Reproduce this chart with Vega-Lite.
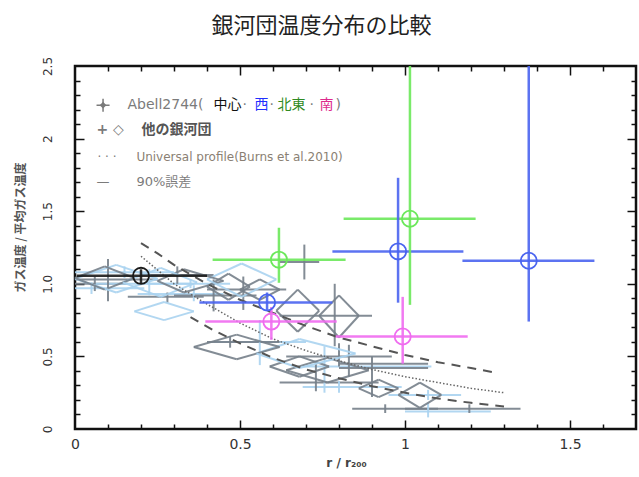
{
  "$schema": "https://vega.github.io/schema/vega-lite/v6.json",
  "width": 561,
  "height": 363,
  "autosize": {"type": "none"},
  "padding": {"left": 75, "top": 66, "right": 3, "bottom": 48},
  "background": "white",
  "config": {"view": {"stroke": "#111111", "strokeWidth": 2.5}},
  "title": {"text": "銀河団温度分布の比較", "font": "Noto Sans CJK JP", "fontSize": 22, "fontWeight": "normal", "color": "#222222", "anchor": "middle", "dx": -34, "offset": 18},
  "datasets": {
    "abell": [
      {"region": "中心", "x": 0.2, "y": 1.055, "xlo": 0.005, "xhi": 0.40, "ylo": 1.0, "yhi": 1.10},
      {"region": "西", "x": 0.582, "y": 0.871, "xlo": 0.377, "xhi": 0.78, "ylo": 0.82, "yhi": 0.94},
      {"region": "西", "x": 0.979, "y": 1.223, "xlo": 0.78, "xhi": 1.177, "ylo": 0.87, "yhi": 1.73},
      {"region": "西", "x": 1.375, "y": 1.159, "xlo": 1.174, "xhi": 1.574, "ylo": 0.74, "yhi": 2.5},
      {"region": "北東", "x": 0.618, "y": 1.166, "xlo": 0.417, "xhi": 0.82, "ylo": 1.007, "yhi": 1.386},
      {"region": "北東", "x": 1.015, "y": 1.448, "xlo": 0.814, "xhi": 1.214, "ylo": 0.855, "yhi": 2.5},
      {"region": "南", "x": 0.595, "y": 0.74, "xlo": 0.395, "xhi": 0.793, "ylo": 0.614, "yhi": 0.84},
      {"region": "南", "x": 0.993, "y": 0.637, "xlo": 0.79, "xhi": 1.19, "ylo": 0.45, "yhi": 0.91}
    ],
    "others": [
      {"sym": "cross", "tone": "gray", "x": 0.10, "y": 1.03, "xlo": 0.0, "xhi": 0.25, "ylo": 0.88, "yhi": 1.17},
      {"sym": "cross", "tone": "light", "x": 0.05, "y": 0.97, "xlo": 0.0, "xhi": 0.21, "ylo": 0.93, "yhi": 1.01},
      {"sym": "cross", "tone": "gray", "x": 0.06, "y": 1.0, "xlo": 0.0, "xhi": 0.16, "ylo": 0.95, "yhi": 1.05},
      {"sym": "cross", "tone": "light", "x": 0.225, "y": 1.0, "xlo": 0.06, "xhi": 0.36, "ylo": 0.92, "yhi": 1.10},
      {"sym": "cross", "tone": "gray", "x": 0.31, "y": 1.06, "xlo": 0.20, "xhi": 0.42, "ylo": 1.0, "yhi": 1.12},
      {"sym": "cross", "tone": "gray", "x": 0.28, "y": 0.91, "xlo": 0.16, "xhi": 0.39, "ylo": 0.87, "yhi": 0.94},
      {"sym": "cross", "tone": "light", "x": 0.36, "y": 0.93, "xlo": 0.19, "xhi": 0.45, "ylo": 0.88, "yhi": 0.99},
      {"sym": "cross", "tone": "gray", "x": 0.42, "y": 0.92, "xlo": 0.30, "xhi": 0.55, "ylo": 0.81, "yhi": 1.03},
      {"sym": "cross", "tone": "gray", "x": 0.51, "y": 0.96, "xlo": 0.40, "xhi": 0.64, "ylo": 0.82, "yhi": 1.05},
      {"sym": "cross", "tone": "gray", "x": 0.695, "y": 1.15, "xlo": 0.62, "xhi": 0.74, "ylo": 1.03, "yhi": 1.27},
      {"sym": "cross", "tone": "gray", "x": 0.787, "y": 0.78, "xlo": 0.62, "xhi": 0.90, "ylo": 0.57, "yhi": 1.0},
      {"sym": "cross", "tone": "light", "x": 0.56, "y": 0.60, "xlo": 0.42, "xhi": 0.70, "ylo": 0.44, "yhi": 0.75},
      {"sym": "cross", "tone": "gray", "x": 0.47, "y": 0.60, "xlo": 0.40, "xhi": 0.62, "ylo": 0.56, "yhi": 0.64},
      {"sym": "cross", "tone": "gray", "x": 0.80, "y": 0.50, "xlo": 0.64, "xhi": 0.96, "ylo": 0.43, "yhi": 0.59},
      {"sym": "cross", "tone": "gray", "x": 0.83, "y": 0.45, "xlo": 0.80, "xhi": 1.07, "ylo": 0.36, "yhi": 0.58},
      {"sym": "cross", "tone": "light", "x": 0.756, "y": 0.43, "xlo": 0.69, "xhi": 1.08, "ylo": 0.25, "yhi": 0.57},
      {"sym": "cross", "tone": "gray", "x": 0.73, "y": 0.32, "xlo": 0.62, "xhi": 0.92, "ylo": 0.26, "yhi": 0.45},
      {"sym": "cross", "tone": "gray", "x": 0.90, "y": 0.42, "xlo": 0.80, "xhi": 1.07, "ylo": 0.22, "yhi": 0.50},
      {"sym": "cross", "tone": "light", "x": 0.80, "y": 0.29, "xlo": 0.69, "xhi": 0.99, "ylo": 0.25, "yhi": 0.33},
      {"sym": "cross", "tone": "gray", "x": 0.94, "y": 0.14, "xlo": 0.84, "xhi": 1.10, "ylo": 0.11, "yhi": 0.17},
      {"sym": "cross", "tone": "gray", "x": 1.195, "y": 0.14, "xlo": 1.0, "xhi": 1.35, "ylo": 0.11, "yhi": 0.17},
      {"sym": "cross", "tone": "light", "x": 1.07, "y": 0.12, "xlo": 1.0, "xhi": 1.26, "ylo": 0.08, "yhi": 0.18},
      {"sym": "cross", "tone": "light", "x": 1.07, "y": 0.235, "xlo": 0.95, "xhi": 1.17, "ylo": 0.20, "yhi": 0.27},
      {"sym": "cross", "tone": "light", "x": 0.35, "y": 1.0, "xlo": 0.22, "xhi": 0.47, "ylo": 0.97, "yhi": 1.03},
      {"sym": "cross", "tone": "light", "x": 0.15, "y": 1.08, "xlo": 0.0, "xhi": 0.30, "ylo": 1.04, "yhi": 1.12},
      {"sym": "diamond", "tone": "light", "x": 0.125, "y": 1.035, "xlo": 0.0, "xhi": 0.25, "ylo": 0.94, "yhi": 1.13},
      {"sym": "diamond", "tone": "gray", "x": 0.09, "y": 1.04, "xlo": 0.0, "xhi": 0.18, "ylo": 0.96, "yhi": 1.12},
      {"sym": "diamond", "tone": "light", "x": 0.26, "y": 1.01, "xlo": 0.145, "xhi": 0.37, "ylo": 0.91, "yhi": 1.11},
      {"sym": "diamond", "tone": "light", "x": 0.27, "y": 0.81, "xlo": 0.18, "xhi": 0.36, "ylo": 0.75, "yhi": 0.875},
      {"sym": "diamond", "tone": "light", "x": 0.505, "y": 1.03, "xlo": 0.40, "xhi": 0.61, "ylo": 0.91, "yhi": 1.14},
      {"sym": "diamond", "tone": "gray", "x": 0.465, "y": 0.98, "xlo": 0.40, "xhi": 0.53, "ylo": 0.89, "yhi": 1.07},
      {"sym": "diamond", "tone": "gray", "x": 0.56, "y": 0.96, "xlo": 0.50, "xhi": 0.62, "ylo": 0.89, "yhi": 1.03},
      {"sym": "diamond", "tone": "gray", "x": 0.675, "y": 0.815, "xlo": 0.61, "xhi": 0.74, "ylo": 0.67, "yhi": 0.96},
      {"sym": "diamond", "tone": "gray", "x": 0.80, "y": 0.78, "xlo": 0.74, "xhi": 0.86, "ylo": 0.63, "yhi": 0.92},
      {"sym": "diamond", "tone": "gray", "x": 0.49, "y": 0.565, "xlo": 0.36, "xhi": 0.62, "ylo": 0.48, "yhi": 0.65},
      {"sym": "diamond", "tone": "light", "x": 0.68, "y": 0.52, "xlo": 0.55, "xhi": 0.85, "ylo": 0.42, "yhi": 0.62},
      {"sym": "diamond", "tone": "gray", "x": 0.68, "y": 0.43, "xlo": 0.59, "xhi": 0.77, "ylo": 0.36, "yhi": 0.50},
      {"sym": "diamond", "tone": "gray", "x": 0.765, "y": 0.405, "xlo": 0.64, "xhi": 0.89, "ylo": 0.32, "yhi": 0.49},
      {"sym": "diamond", "tone": "gray", "x": 0.92, "y": 0.28, "xlo": 0.86, "xhi": 0.98, "ylo": 0.22, "yhi": 0.34},
      {"sym": "diamond", "tone": "gray", "x": 1.045, "y": 0.235, "xlo": 0.98, "xhi": 1.11, "ylo": 0.145, "yhi": 0.32},
      {"sym": "diamond", "tone": "gray", "x": 0.33, "y": 1.02, "xlo": 0.25, "xhi": 0.45, "ylo": 0.94, "yhi": 1.10}
    ],
    "curves": [
      {"curve": "upper", "x": 0.2, "y": 1.28}, {"curve": "upper", "x": 0.25, "y": 1.21}, {"curve": "upper", "x": 0.3, "y": 1.13},
      {"curve": "upper", "x": 0.4, "y": 1.0}, {"curve": "upper", "x": 0.5, "y": 0.89}, {"curve": "upper", "x": 0.6, "y": 0.8},
      {"curve": "upper", "x": 0.7, "y": 0.71}, {"curve": "upper", "x": 0.8, "y": 0.63}, {"curve": "upper", "x": 0.9, "y": 0.57},
      {"curve": "upper", "x": 1.0, "y": 0.51}, {"curve": "upper", "x": 1.1, "y": 0.46}, {"curve": "upper", "x": 1.2, "y": 0.42},
      {"curve": "upper", "x": 1.27, "y": 0.39},
      {"curve": "profile", "x": 0.2, "y": 1.19}, {"curve": "profile", "x": 0.3, "y": 1.0}, {"curve": "profile", "x": 0.4, "y": 0.86},
      {"curve": "profile", "x": 0.5, "y": 0.73}, {"curve": "profile", "x": 0.6, "y": 0.62}, {"curve": "profile", "x": 0.7, "y": 0.54},
      {"curve": "profile", "x": 0.8, "y": 0.47}, {"curve": "profile", "x": 0.9, "y": 0.41}, {"curve": "profile", "x": 1.0, "y": 0.36},
      {"curve": "profile", "x": 1.1, "y": 0.32}, {"curve": "profile", "x": 1.2, "y": 0.28}, {"curve": "profile", "x": 1.3, "y": 0.25},
      {"curve": "lower", "x": 0.35, "y": 0.77}, {"curve": "lower", "x": 0.42, "y": 0.68}, {"curve": "lower", "x": 0.5, "y": 0.59},
      {"curve": "lower", "x": 0.6, "y": 0.49}, {"curve": "lower", "x": 0.7, "y": 0.41}, {"curve": "lower", "x": 0.8, "y": 0.35},
      {"curve": "lower", "x": 0.9, "y": 0.295}, {"curve": "lower", "x": 1.0, "y": 0.25}, {"curve": "lower", "x": 1.1, "y": 0.21},
      {"curve": "lower", "x": 1.2, "y": 0.18}, {"curve": "lower", "x": 1.3, "y": 0.155}
    ],
    "legend": [
      {"line": 1, "x": 0.159, "y": 2.23, "text": "Abell2744(", "role": "label"},
      {"line": 1, "x": 0.42, "y": 2.23, "text": "中心", "role": "中心"},
      {"line": 1, "x": 0.5076, "y": 2.23, "text": "·", "role": "label"},
      {"line": 1, "x": 0.5439, "y": 2.23, "text": "西", "role": "西"},
      {"line": 1, "x": 0.5894, "y": 2.23, "text": "·", "role": "label"},
      {"line": 1, "x": 0.6136, "y": 2.23, "text": "北東", "role": "北東"},
      {"line": 1, "x": 0.7106, "y": 2.23, "text": "·", "role": "label"},
      {"line": 1, "x": 0.7409, "y": 2.23, "text": "南", "role": "南"},
      {"line": 1, "x": 0.7894, "y": 2.23, "text": ")", "role": "label"},
      {"line": 2, "x": 0.065, "y": 2.062, "text": "+ ◇", "role": "label"},
      {"line": 2, "x": 0.2015, "y": 2.062, "text": "他の銀河団", "role": "others"},
      {"line": 3, "x": 0.068, "y": 1.87, "text": "·  ·  ·", "role": "label"},
      {"line": 3, "x": 0.186, "y": 1.87, "text": "Universal profile(Burns et al.2010)", "role": "profile"},
      {"line": 4, "x": 0.065, "y": 1.70, "text": "—", "role": "label"},
      {"line": 4, "x": 0.186, "y": 1.70, "text": "90%誤差", "role": "label"}
    ],
    "legendsym": [{"x": 0.085, "y": 2.23}]
  },
  "resolve": {"axis": {"x": "independent", "y": "independent"}},
  "layer": [
    {
      "data": {"name": "others"},
      "transform": [{"filter": "datum.sym == 'cross'"}],
      "mark": {"type": "rule", "strokeWidth": 2, "opacity": 0.9},
      "encoding": {
        "x": {"field": "xlo", "type": "quantitative", "scale": {"domain": [0, 1.7], "nice": false, "zero": false},
          "axis": {"orient": "bottom", "values": [0, 0.5, 1, 1.5], "format": "~g", "ticks": false, "tickSize": 0, "domain": false, "grid": false, "labelPadding": 8, "labelFontSize": 14, "labelFont": "DejaVu Sans", "labelColor": "#333333", "labelFlush": false, "labelOverlap": false,
            "title": "r / r₂₀₀", "titleFont": "DejaVu Sans", "titleFontSize": 12, "titleFontWeight": "bold", "titleColor": "#444444", "titleX": 271, "titleY": 28, "titleBaseline": "top", "titleAlign": "center"}},
        "x2": {"field": "xhi"},
        "y": {"field": "y", "type": "quantitative", "scale": {"domain": [0, 2.5], "nice": false, "zero": false},
          "axis": {"orient": "left", "values": [0, 0.5, 1, 1.5, 2, 2.5], "labelExpr": "datum.value == 1 ? '1.0' : format(datum.value, '~g')", "labelAngle": -90, "labelAlign": "center", "labelBaseline": "bottom", "ticks": false, "tickSize": 0, "domain": false, "grid": false, "labelPadding": 21, "labelFontSize": 12, "labelFont": "DejaVu Sans", "labelColor": "#333333", "labelFlush": false, "labelOverlap": false,
            "title": "ガス温度 / 平均ガス温度", "titleFont": "Noto Sans CJK JP", "titleFontSize": 12, "titleFontWeight": "bold", "titleColor": "#555555", "titleAngle": -90, "titleX": -55, "titleY": 161, "titleBaseline": "middle", "titleAlign": "center"}},
        "stroke": {"field": "tone", "type": "nominal", "legend": null,
          "scale": {"domain": ["中心", "西", "北東", "南", "gray", "light"], "range": ["#1a1a1a", "#4a64ef", "#6be85a", "#ef6cef", "#76808a", "#aad3ef"]}}
      }
    },
    {
      "data": {"name": "others"},
      "transform": [{"filter": "datum.sym == 'cross'"}],
      "mark": {"type": "rule", "strokeWidth": 2, "opacity": 0.9},
      "encoding": {
        "x": {"field": "x", "type": "quantitative", "axis": {"orient": "bottom", "values": [0.5, 1, 1.5], "labels": false, "tickSize": -9, "tickColor": "#111111", "tickWidth": 1.5, "domain": false, "grid": false, "title": null}},
        "y": {"field": "ylo", "type": "quantitative", "axis": {"orient": "left", "values": [0.5, 1, 1.5, 2], "labels": false, "tickSize": -9, "tickColor": "#111111", "tickWidth": 1.5, "domain": false, "grid": false, "title": null}},
        "y2": {"field": "yhi"},
        "stroke": {"field": "tone", "type": "nominal", "legend": null}
      }
    },
    {
      "data": {"name": "others"},
      "transform": [{"filter": "datum.sym == 'diamond'"}],
      "mark": {"type": "rule", "strokeWidth": 2, "opacity": 0.9},
      "encoding": {
        "x": {"field": "xlo", "type": "quantitative", "axis": {"orient": "bottom", "values": [0.1, 0.2, 0.3, 0.4, 0.6, 0.7, 0.8, 0.9, 1.1, 1.2, 1.3, 1.4, 1.6], "labels": false, "tickSize": -5, "tickColor": "#111111", "tickWidth": 1.5, "domain": false, "grid": false, "title": null}},
        "y": {"field": "y", "type": "quantitative", "axis": {"orient": "left", "values": [0.1, 0.2, 0.3, 0.4, 0.6, 0.7, 0.8, 0.9, 1.1, 1.2, 1.3, 1.4, 1.6, 1.7, 1.8, 1.9, 2.1, 2.2, 2.3, 2.4], "labels": false, "tickSize": -5, "tickColor": "#111111", "tickWidth": 1.5, "domain": false, "grid": false, "title": null}},
        "x2": {"field": "x"},
        "y2": {"field": "yhi"},
        "stroke": {"field": "tone", "type": "nominal", "legend": null}
      }
    },
    {
      "data": {"name": "others"},
      "transform": [{"filter": "datum.sym == 'diamond'"}],
      "mark": {"type": "rule", "strokeWidth": 2, "opacity": 0.9},
      "encoding": {
        "x": {"field": "x", "type": "quantitative", "axis": {"orient": "top", "values": [0.5, 1, 1.5], "labels": false, "tickSize": -9, "tickColor": "#111111", "tickWidth": 1.5, "domain": false, "grid": false, "title": null}},
        "y": {"field": "yhi", "type": "quantitative", "axis": {"orient": "right", "values": [0.5, 1, 1.5, 2], "labels": false, "tickSize": -9, "tickColor": "#111111", "tickWidth": 1.5, "domain": false, "grid": false, "title": null}},
        "x2": {"field": "xhi"},
        "y2": {"field": "y"},
        "stroke": {"field": "tone", "type": "nominal", "legend": null}
      }
    },
    {
      "data": {"name": "others"},
      "transform": [{"filter": "datum.sym == 'diamond'"}],
      "mark": {"type": "rule", "strokeWidth": 2, "opacity": 0.9},
      "encoding": {
        "x": {"field": "xhi", "type": "quantitative", "axis": {"orient": "top", "values": [0.1, 0.2, 0.3, 0.4, 0.6, 0.7, 0.8, 0.9, 1.1, 1.2, 1.3, 1.4, 1.6], "labels": false, "tickSize": -5, "tickColor": "#111111", "tickWidth": 1.5, "domain": false, "grid": false, "title": null}},
        "y": {"field": "y", "type": "quantitative", "axis": {"orient": "right", "values": [0.1, 0.2, 0.3, 0.4, 0.6, 0.7, 0.8, 0.9, 1.1, 1.2, 1.3, 1.4, 1.6, 1.7, 1.8, 1.9, 2.1, 2.2, 2.3, 2.4], "labels": false, "tickSize": -5, "tickColor": "#111111", "tickWidth": 1.5, "domain": false, "grid": false, "title": null}},
        "x2": {"field": "x"},
        "y2": {"field": "ylo"},
        "stroke": {"field": "tone", "type": "nominal", "legend": null}
      }
    },
    {
      "data": {"name": "others"},
      "transform": [{"filter": "datum.sym == 'diamond'"}],
      "mark": {"type": "rule", "strokeWidth": 2, "opacity": 0.9},
      "encoding": {
        "x": {"field": "x", "type": "quantitative", "axis": null},
        "y": {"field": "ylo", "type": "quantitative", "axis": null},
        "x2": {"field": "xlo"},
        "y2": {"field": "y"},
        "stroke": {"field": "tone", "type": "nominal", "legend": null}
      }
    },
    {
      "data": {"name": "curves"},
      "transform": [{"filter": "datum.curve == 'upper'"}],
      "mark": {"type": "line", "stroke": "#555555", "strokeWidth": 2, "strokeDash": [9, 7]},
      "encoding": {
        "x": {"field": "x", "type": "quantitative", "axis": null},
        "y": {"field": "y", "type": "quantitative", "axis": null}
      }
    },
    {
      "data": {"name": "curves"},
      "transform": [{"filter": "datum.curve == 'lower'"}],
      "mark": {"type": "line", "stroke": "#555555", "strokeWidth": 2, "strokeDash": [9, 7]},
      "encoding": {
        "x": {"field": "x", "type": "quantitative", "axis": null},
        "y": {"field": "y", "type": "quantitative", "axis": null}
      }
    },
    {
      "data": {"name": "curves"},
      "transform": [{"filter": "datum.curve == 'profile'"}],
      "mark": {"type": "line", "stroke": "#666666", "strokeWidth": 1.5, "strokeDash": [1.5, 2]},
      "encoding": {
        "x": {"field": "x", "type": "quantitative", "axis": null},
        "y": {"field": "y", "type": "quantitative", "axis": null}
      }
    },
    {
      "data": {"name": "abell"},
      "mark": {"type": "rule", "strokeWidth": 2.5, "opacity": 0.9},
      "encoding": {
        "x": {"field": "xlo", "type": "quantitative", "axis": null},
        "x2": {"field": "xhi"},
        "y": {"field": "y", "type": "quantitative", "axis": null},
        "stroke": {"field": "region", "type": "nominal", "legend": null}
      }
    },
    {
      "data": {"name": "abell"},
      "mark": {"type": "rule", "strokeWidth": 2.5, "opacity": 0.9},
      "encoding": {
        "x": {"field": "x", "type": "quantitative", "axis": null},
        "y": {"field": "ylo", "type": "quantitative", "axis": null},
        "y2": {"field": "yhi"},
        "stroke": {"field": "region", "type": "nominal", "legend": null}
      }
    },
    {
      "data": {"name": "abell"},
      "mark": {"type": "point", "shape": "circle", "filled": false, "size": 260, "strokeWidth": 1.8, "opacity": 1},
      "encoding": {
        "x": {"field": "x", "type": "quantitative", "axis": null},
        "y": {"field": "y", "type": "quantitative", "axis": null},
        "stroke": {"field": "region", "type": "nominal", "legend": null}
      }
    },
    {
      "data": {"name": "legend"},
      "transform": [{"filter": "datum.line == 1"}],
      "mark": {"type": "text", "align": "left", "baseline": "middle", "fontSize": 14, "font": "DejaVu Sans, Noto Sans CJK JP"},
      "encoding": {
        "x": {"field": "x", "type": "quantitative", "axis": null},
        "y": {"field": "y", "type": "quantitative", "axis": null},
        "text": {"field": "text"},
        "fill": {"field": "role", "type": "nominal", "legend": null,
          "scale": {"domain": ["label", "others", "profile", "中心", "西", "北東", "南"], "range": ["#7b7b7b", "#555555", "#8a7f73", "#111111", "#1f2fff", "#2f8a22", "#dd2a8c"]}}
      }
    },
    {
      "data": {"name": "legend"},
      "transform": [{"filter": "datum.line == 2"}],
      "mark": {"type": "text", "align": "left", "baseline": "middle", "fontSize": 14, "fontWeight": "bold", "font": "DejaVu Sans, Noto Sans CJK JP"},
      "encoding": {
        "x": {"field": "x", "type": "quantitative", "axis": null},
        "y": {"field": "y", "type": "quantitative", "axis": null},
        "text": {"field": "text"},
        "fill": {"field": "role", "type": "nominal", "legend": null}
      }
    },
    {
      "data": {"name": "legend"},
      "transform": [{"filter": "datum.line == 3"}],
      "mark": {"type": "text", "align": "left", "baseline": "middle", "fontSize": 12, "font": "DejaVu Sans, Noto Sans CJK JP"},
      "encoding": {
        "x": {"field": "x", "type": "quantitative", "axis": null},
        "y": {"field": "y", "type": "quantitative", "axis": null},
        "text": {"field": "text"},
        "fill": {"field": "role", "type": "nominal", "legend": null}
      }
    },
    {
      "data": {"name": "legend"},
      "transform": [{"filter": "datum.line == 4"}],
      "mark": {"type": "text", "align": "left", "baseline": "middle", "fontSize": 13, "font": "DejaVu Sans, Noto Sans CJK JP"},
      "encoding": {
        "x": {"field": "x", "type": "quantitative", "axis": null},
        "y": {"field": "y", "type": "quantitative", "axis": null},
        "text": {"field": "text"},
        "fill": {"field": "role", "type": "nominal", "legend": null}
      }
    },
    {
      "data": {"name": "legendsym"},
      "mark": {"type": "point", "shape": "diamond", "filled": true, "fill": "#7b7b7b", "size": 45, "opacity": 1},
      "encoding": {
        "x": {"field": "x", "type": "quantitative", "axis": null},
        "y": {"field": "y", "type": "quantitative", "axis": null}
      }
    },
    {
      "data": {"name": "legendsym"},
      "mark": {"type": "point", "shape": "M-1,0L1,0M0,-1L0,1", "filled": false, "stroke": "#7b7b7b", "strokeWidth": 1.5, "size": 170, "opacity": 1},
      "encoding": {
        "x": {"field": "x", "type": "quantitative", "axis": null},
        "y": {"field": "y", "type": "quantitative", "axis": null}
      }
    }
  ]
}
